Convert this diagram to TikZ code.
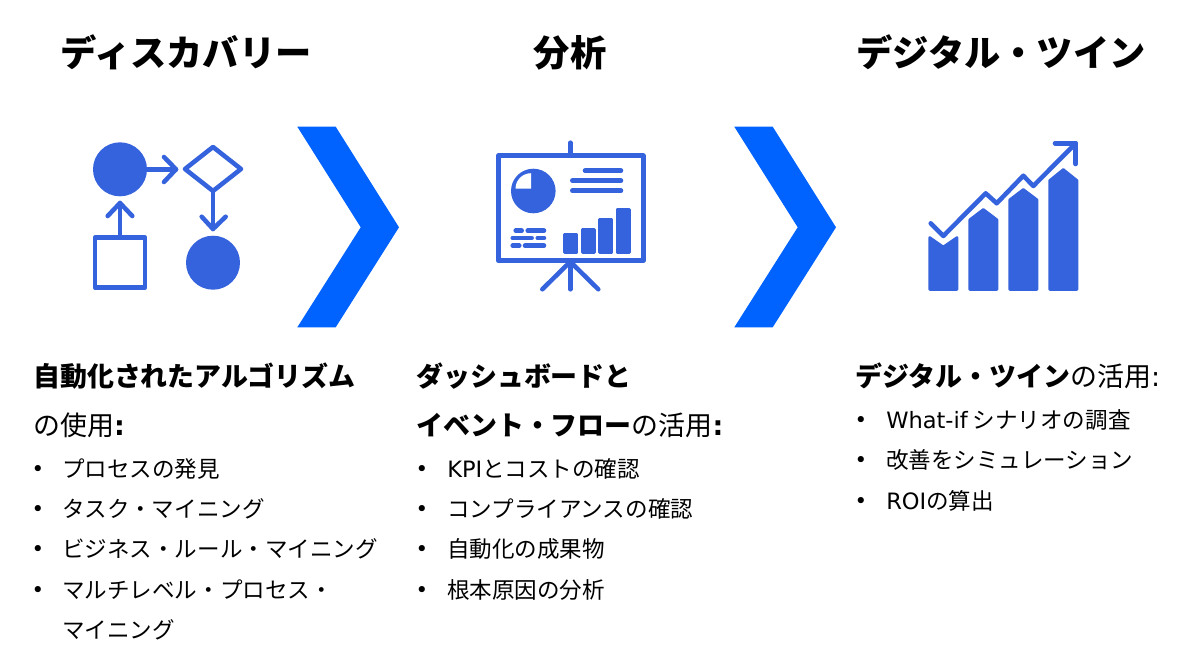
\documentclass[tikz,border=0pt]{standalone}
\usepackage{fontspec}
\setmainfont{Noto Sans CJK JP}
\newfontfamily\lat{DejaVu Sans}
\definecolor{iconblue}{HTML}{3563DD}
\definecolor{chevblue}{HTML}{0062FF}
\tikzset{
  head/.style={font=\fontsize{27.2}{30}\selectfont\bfseries,anchor=base,inner sep=0pt},
  sub/.style={font=\fontsize{20.2}{22}\selectfont,anchor=base west,inner sep=0pt},
  item/.style={font=\fontsize{16.9}{20}\selectfont,anchor=base west,inner sep=0pt},
  bul/.style={font=\fontsize{16}{20}\selectfont,anchor=base,inner sep=0pt},
  stroke/.style={draw=iconblue,line width=3.4pt,line cap=round,line join=round},
  thin stroke/.style={draw=iconblue,line width=3.4pt,line cap=round,line join=round},
  solid/.style={fill=iconblue,draw=none},
  bar/.style={fill=iconblue,draw=iconblue,line width=2pt,line join=round},
  chev/.style={fill=chevblue,draw=none}
}
\begin{document}
\begin{tikzpicture}[x=0.75pt,y=-0.75pt]
\useasboundingbox (0,0) rectangle (1200,664);
\node[head] (h1) at (186,66) {ディスカバリー};
\node[head] (h2) at (570,66) {分析};
\node[head] (h3) at (1001,66) {デジタル・ツイン};
% icon 1
\fill[solid] (120,169.3) circle (27);
\fill[solid] (213,262.7) circle (27);
\draw[stroke] (147,169.3) -- (176,169.3);
\draw[stroke] (164,157) -- (176,169.3) -- (164,182);
\draw[stroke] (185,169) -- (213,147) -- (241,169) -- (213,191) -- cycle;
\draw[stroke] (213,191) -- (213,229);
\draw[stroke] (201.7,216.7) -- (213,229) -- (225.7,216.7);
\draw[stroke] (95,237.7) rectangle (145,287.7);
\draw[stroke] (120,237) -- (120,203);
\draw[stroke] (107.7,216) -- (120,203) -- (132.3,216);
% chevrons
\fill[chev] (297.3,126.7) -- (335.7,126.7) -- (399,227.3) -- (335.7,327.3) -- (297.3,327.3) -- (360.7,227.3) -- cycle;
\fill[chev] (734.3,126.7) -- (772.7,126.7) -- (836,227.3) -- (772.7,327.3) -- (734.3,327.3) -- (797.7,227.3) -- cycle;
% icon 2
\draw[stroke] (498.3,155.7) rectangle (643.3,260.7);
\draw[stroke] (570.3,142.7) -- (570.3,155.7);
\draw[stroke] (570.3,261.7) -- (570.3,289.3);
\draw[stroke] (570.3,261.7) -- (542.3,289.3);
\draw[stroke] (570.3,261.7) -- (598.3,289.3);
\fill[solid] (533.3,191) circle (22.3);
\fill[white] (531,188.7) -- (515.5,188.7) arc[start angle=180,end angle=270,radius=15.5] -- cycle;
\draw[stroke] (585,170.7) -- (621,170.7);
\draw[stroke] (572.3,180.7) -- (621,180.7);
\draw[stroke] (572.3,190.7) -- (621,190.7);
\draw[thin stroke] (515.7,230.7) -- (521.7,230.7);
\draw[thin stroke] (527.7,230.7) -- (544,230.7);
\draw[thin stroke] (512.7,238) -- (531.7,238);
\draw[thin stroke] (537.7,238) -- (544,238);
\draw[thin stroke] (512.7,245.7) -- (519.3,245.7);
\draw[thin stroke] (525,245.7) -- (544,245.7);
\draw[bar] (564.6,234.6) rectangle (577,252.2);
\draw[bar] (582.2,229.6) rectangle (594.6,252.2);
\draw[bar] (599.6,219.6) rectangle (612,252.2);
\draw[bar] (617,209.6) rectangle (629.2,252.2);
% icon 3
\draw[stroke] (930.7,223.3) -- (943.3,236) -- (985.7,193.3) -- (996.7,203.3) -- (1023.3,175.7) -- (1033.3,186) -- (1075.7,143.3);
\draw[stroke] (1055,143.3) -- (1075.7,143.3) -- (1075.7,164);
\draw[bar] (929.7,237.5) -- (943.3,247) -- (957,237.5) -- (957,289.5) -- (929.7,289.5) -- cycle;
\draw[bar] (969.7,219.8) -- (983.3,209.5) -- (997,219.8) -- (997,289.5) -- (969.7,289.5) -- cycle;
\draw[bar] (1009.7,199.8) -- (1023.3,189.5) -- (1037,199.8) -- (1037,289.5) -- (1009.7,289.5) -- cycle;
\draw[bar] (1049.7,180.5) -- (1063.3,169.5) -- (1077,180.5) -- (1077,289.5) -- (1049.7,289.5) -- cycle;
% column 1
\node[sub] (a1) at (33,386) {\textbf{自動化されたアルゴリズム}};
\node[sub] (a2) at (33,435) {の使用\textbf{\lat :}};
\node[bul] (b1) at (38,476) {\lat •};
\node[item] (t1) at (62,477) {プロセスの発見};
\node[bul] (b2) at (38,516) {\lat •};
\node[item] (t2) at (62,517) {タスク・マイニング};
\node[bul] (b3) at (38,556) {\lat •};
\node[item] (t3) at (62,557) {ビジネス・ルール・マイニング};
\node[bul] (b4) at (38,597) {\lat •};
\node[item] (t4) at (62,598) {マルチレベル・プロセス・};
\node[item] (t5) at (62,638) {マイニング};
% column 2
\node[sub] (c1) at (416,386) {\textbf{ダッシュボードと}};
\node[sub] (c2) at (416,435) {\textbf{イベント・フロー}の活用\textbf{\lat :}};
\node[bul] (d1) at (422,476) {\lat •};
\node[item] (e1) at (447,477) {{\lat KPI}とコストの確認};
\node[bul] (d2) at (422,516) {\lat •};
\node[item] (e2) at (447,517) {コンプライアンスの確認};
\node[bul] (d3) at (422,556) {\lat •};
\node[item] (e3) at (447,557) {自動化の成果物};
\node[bul] (d4) at (422,597) {\lat •};
\node[item] (e4) at (447,598) {根本原因の分析};
% column 3
\node[sub] (f1) at (855,386) {\textbf{デジタル・ツイン}の活用{\lat :}};
\node[bul] (g1) at (861,427) {\lat •};
\node[item] (k1) at (886,428) {{\lat What-if} シナリオの調査};
\node[bul] (g2) at (861,467) {\lat •};
\node[item] (k2) at (886,468) {改善をシミュレーション};
\node[bul] (g3) at (861,508) {\lat •};
\node[item] (k3) at (886,509) {{\lat ROI}の算出};
\end{tikzpicture}
\end{document}
